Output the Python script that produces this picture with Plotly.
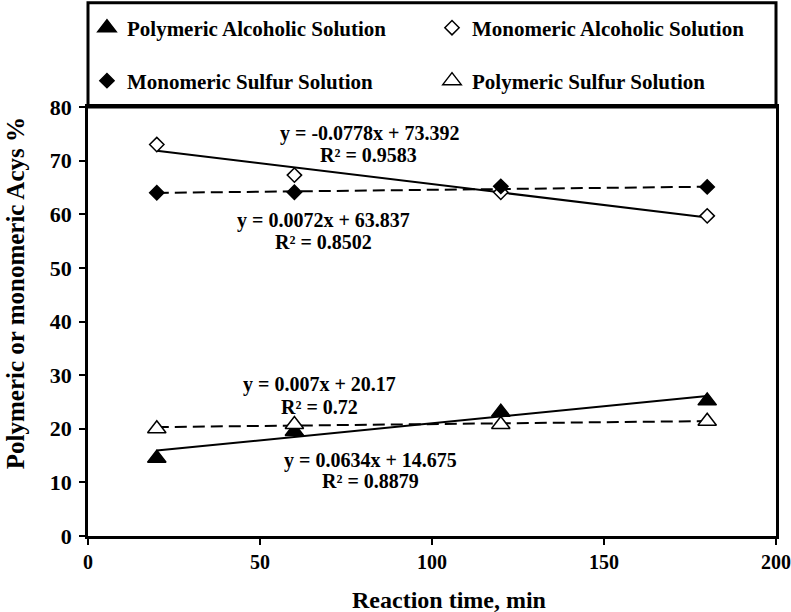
import plotly.graph_objects as go

# ---------------- data ----------------
reaction_time = [20, 60, 120, 180]
poly_alcoholic = [14.5, 19.5, 23.1, 25.2]
mono_alcoholic = [73.0, 67.3, 64.1, 59.7]
mono_sulfur = [64.0, 64.1, 65.2, 65.1]
poly_sulfur = [20.0, 20.8, 20.8, 21.4]

# linear trendline coefficients (slope, intercept) and R²
trend_poly_alcoholic = (0.0634, 14.675, 0.8879)
trend_mono_alcoholic = (-0.0778, 73.392, 0.9583)
trend_mono_sulfur = (0.0072, 63.837, 0.8502)
trend_poly_sulfur = (0.007, 20.17, 0.72)

x_ticks = [0, 50, 100, 150, 200]
y_ticks = [0, 10, 20, 30, 40, 50, 60, 70, 80]

FONT = "Liberation Serif"

def bold(s):
    return "<b>" + s + "</b>"

fig = go.Figure()

# trendlines
x_rng = [min(reaction_time), max(reaction_time)]
for (m, b, r2), dash in [
    (trend_poly_alcoholic, "solid"),
    (trend_mono_alcoholic, "solid"),
    (trend_mono_sulfur, "12px,6px"),
    (trend_poly_sulfur, "12px,6px"),
]:
    fig.add_trace(go.Scatter(
        x=x_rng, y=[m * xx + b for xx in x_rng], mode="lines",
        line=dict(color="black", width=2, dash=dash),
        showlegend=False, hoverinfo="skip"))

def series(name, y, symbol, fill, size, legend):
    fig.add_trace(go.Scatter(
        x=reaction_time, y=y, mode="markers", name=bold(name),
        marker=dict(symbol=symbol, size=size, color=fill,
                    line=dict(color="black", width=1.5)),
        legend=legend))

series("Polymeric Alcoholic Solution", poly_alcoholic, "triangle-up", "black", 16, "legend")
series("Monomeric Alcoholic Solution", mono_alcoholic, "diamond", "white", 11, "legend2")
series("Monomeric Sulfur Solution", mono_sulfur, "diamond", "black", 11, "legend3")
series("Polymeric Sulfur Solution", poly_sulfur, "triangle-up", "white", 16, "legend4")

# equation labels
eq_font = dict(family=FONT, size=20, color="black")
labels = [
    ("y = -0.0778x + 73.392", 81.7, 75.1),
    ("R² = 0.9583", 81.5, 71.0),
    ("y = 0.0072x + 63.837", 68.4, 58.9),
    ("R² = 0.8502", 68.4, 54.8),
    ("y = 0.007x + 20.17", 67.2, 28.2),
    ("R² = 0.72", 67.4, 24.05),
    ("y = 0.0634x + 14.675", 82.0, 14.0),
    ("R² = 0.8879", 82.0, 10.25),
]
for txt, ax_, ay_ in labels:
    fig.add_annotation(x=ax_, y=ay_, xref="x", yref="y", text=bold(txt),
                       showarrow=False, font=eq_font, xanchor="center", yanchor="middle")

# axis titles
fig.add_annotation(x=105, y=-0.149, xref="x", yref="paper", text=bold("Reaction time, min"),
                   showarrow=False, font=dict(family=FONT, size=24, color="black"),
                   xanchor="center", yanchor="middle")
fig.add_annotation(x=-0.106, y=0.566, xref="paper", yref="paper",
                   text=bold("Polymeric or monomeric Acys %"), textangle=-90,
                   showarrow=False, font=dict(family=FONT, size=25, color="black"),
                   xanchor="center", yanchor="middle")

# legend frame
fig.add_shape(type="rect", xref="paper", yref="paper", x0=0, x1=1, y0=1.0, y1=1.243,
              line=dict(color="black", width=3), fillcolor="rgba(0,0,0,0)", layer="above")

leg_common = dict(orientation="h", xanchor="left", yanchor="middle",
                  bgcolor="rgba(0,0,0,0)", borderwidth=0,
                  font=dict(family=FONT, size=21, color="black"), itemwidth=30)

fig.update_layout(
    width=791, height=612,
    margin=dict(l=88, r=15, t=107, b=76, autoexpand=False),
    paper_bgcolor="white", plot_bgcolor="white",
    font=dict(family=FONT, color="black"),
    legend=dict(x=-0.0015, y=1.184, **leg_common),
    legend2=dict(x=0.5, y=1.184, **leg_common),
    legend3=dict(x=-0.0015, y=1.0606, **leg_common),
    legend4=dict(x=0.5, y=1.0606, **leg_common),
    xaxis=dict(range=[0, 200], tickvals=x_ticks, ticktext=[bold(str(v)) for v in x_ticks],
               showgrid=False, zeroline=False, showline=True, linecolor="black",
               linewidth=3, mirror=True, ticks="outside", ticklen=6, tickwidth=1.5,
               tickcolor="black", tickfont=dict(family=FONT, size=20, color="black"),
               ticklabelstandoff=0),
    yaxis=dict(range=[0, 80], tickvals=y_ticks, ticktext=[bold(str(v)) for v in y_ticks],
               showgrid=False, zeroline=False, showline=True, linecolor="black",
               linewidth=2.5, mirror=True, ticks="outside", ticklen=6, tickwidth=1.5,
               tickcolor="black", tickfont=dict(family=FONT, size=22, color="black"),
               ticklabelstandoff=3),
)

# remove the page's default 8px body margin so the figure fills the window exactly
fig.write_html("out.html", config={"displayModeBar": False},
               post_script="document.body.style.margin='0px';")
